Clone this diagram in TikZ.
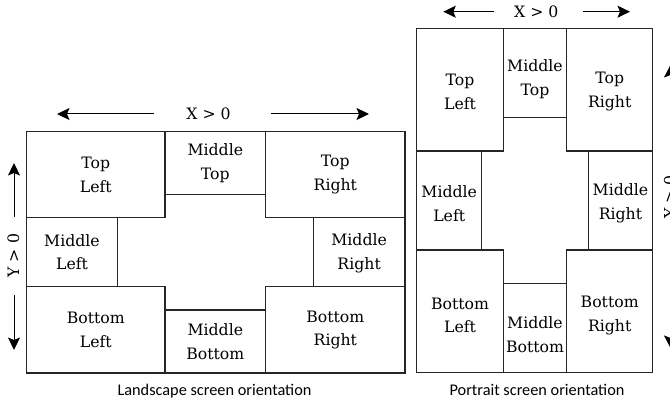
\documentclass[tikz,border=0pt]{standalone}
\usepackage{fontspec}
\setmainfont{DejaVu Serif}
\newfontfamily\capfont{Carlito}
\usetikzlibrary{arrows.meta,fit}
\begin{document}
\begin{tikzpicture}[x=1pt,y=-1pt,
  cell/.style={draw=black!85, line width=1.2pt, inner sep=0pt, outer sep=0pt},
  celltxt/.style={font=\fontsize{15.7}{23.5}\selectfont, align=center, inner sep=0pt},
  axislbl/.style={font=\fontsize{15.7}{18}\selectfont, inner sep=0pt},
  axis/.style={line width=1pt, -{Stealth[length=12.5pt,width=12pt,inset=2.5pt]}},
  raxis/.style={line width=1pt, -{Stealth[length=12.5pt,width=13pt,inset=2.5pt]}},
  captxt/.style={font=\capfont\fontsize{16.3}{18}\selectfont, anchor=base, inner sep=0pt}]
\useasboundingbox (0,0) rectangle (670,401);
\clip (0,0) rectangle (670,401);

% ---------- Landscape ----------
\node[cell, fit={(26.7,131.7) (165,217.7)}] (ltl) {};
\node[cell, fit={(165,131.7) (265.7,194.3)}] (lmt) {};
\node[cell, fit={(265.7,131.7) (405,217.7)}] (ltr) {};
\node[cell, fit={(26.7,217.7) (117.3,286.7)}] (lml) {};
\node[cell, fit={(313.3,217.7) (405,286.7)}] (lmr) {};
\node[cell, fit={(26.7,286.7) (165,373)}] (lbl) {};
\node[cell, fit={(165,310) (265.7,373)}] (lmb) {};
\node[cell, fit={(265.7,286.7) (405,373)}] (lbr) {};

\node[celltxt] (ltl-t) at (ltl) {Top\\Left};
\node[celltxt] (lmt-t) at (lmt) {Middle\\Top};
\node[celltxt] (ltr-t) at (ltr) {Top\\Right};
\node[celltxt] (lml-t) at (lml) {Middle\\Left};
\node[celltxt, yshift=-1pt] (lmr-t) at (lmr) {Middle\\Right};
\node[celltxt] (lbl-t) at (lbl) {Bottom\\Left};
\node[celltxt] (lmb-t) at (lmb) {Middle\\Bottom};
\node[celltxt] (lbr-t) at (lbr) {Bottom\\Right};

\node[axislbl] (lx) at (208.5,114) {X > 0};
\coordinate (lxa) at (154,114);
\coordinate (lxb) at (57,114);
\coordinate (lxc) at (270.7,114);
\coordinate (lxd) at (369,114);
\draw[axis] (lxa) -- (lxb);
\draw[axis] (lxc) -- (lxd);

\node[axislbl, rotate=90] (ly) at (13.5,255.7) {Y > 0};
\coordinate (lya) at (14,216.7);
\coordinate (lyb) at (14,163);
\coordinate (lyc) at (14,295);
\coordinate (lyd) at (14,350);
\draw[axis] (lya) -- (lyb);
\draw[axis] (lyc) -- (lyd);

\node[captxt] (lcap) at (214.5,395) {Landscape screen orientation};

% ---------- Portrait ----------
\node[cell, fit={(416.7,28.3) (503.3,151)}] (ptl) {};
\node[cell, fit={(503.3,28.3) (566.7,117.7)}] (pmt) {};
\node[cell, fit={(566.7,28.3) (652.7,151)}] (ptr) {};
\node[cell, fit={(416.7,151) (481.7,250)}] (pml) {};
\node[cell, fit={(588.3,151) (652.7,250)}] (pmr) {};
\node[cell, fit={(416.7,250) (503.3,372.7)}] (pbl) {};
\node[cell, fit={(503.3,283.3) (566.7,372.7)}] (pmb) {};
\node[cell, fit={(566.7,250) (652.7,372.7)}] (pbr) {};

\node[celltxt, yshift=-2pt] (ptl-t) at (ptl) {Top\\Left};
\node[celltxt, yshift=-6pt] (pmt-t) at (pmt) {Middle\\Top};
\node[celltxt, yshift=-2pt] (ptr-t) at (ptr) {Top\\Right};
\node[celltxt, yshift=-3pt] (pml-t) at (pml) {Middle\\Left};
\node[celltxt, yshift=-3pt] (pmr-t) at (pmr) {Middle\\Right};
\node[celltxt, yshift=-4pt] (pbl-t) at (pbl) {Bottom\\Left};
\node[celltxt, yshift=-6.5pt] (pmb-t) at (pmb) {Middle\\Bottom};
\node[celltxt, yshift=-4pt] (pbr-t) at (pbr) {Bottom\\Right};

\node[axislbl] (px) at (536.3,11.7) {X > 0};
\coordinate (pxa) at (494,11.7);
\coordinate (pxb) at (443.3,11.7);
\coordinate (pxc) at (583.3,11.7);
\coordinate (pxd) at (630,11.7);
\draw[axis] (pxa) -- (pxb);
\draw[axis] (pxc) -- (pxd);

\node[axislbl, rotate=90] (py) at (670,197) {Y > 0};
\coordinate (pya) at (670.5,150);
\coordinate (pyb) at (670.5,65);
\coordinate (pyc) at (670.5,245);
\coordinate (pyd) at (670.5,348);
\draw[raxis] (pya) -- (pyb);
\draw[raxis] (pyc) -- (pyd);

\node[captxt] (pcap) at (537,395) {Portrait screen orientation};
\end{tikzpicture}
\end{document}
